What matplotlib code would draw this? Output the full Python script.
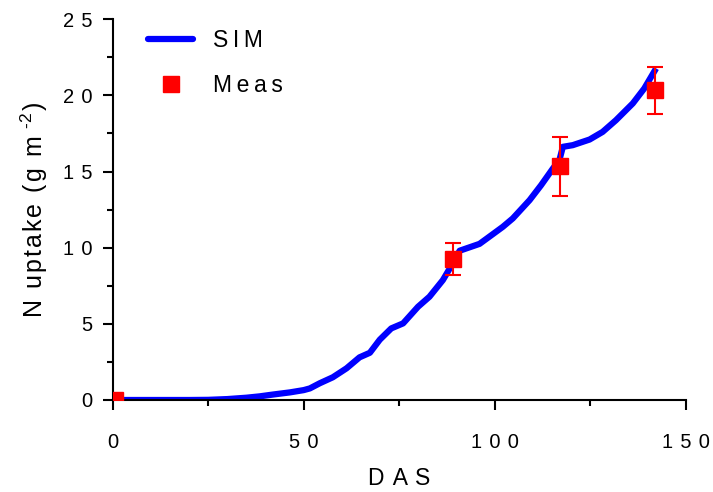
import matplotlib
matplotlib.use('Agg')
import matplotlib.pyplot as plt
from matplotlib.lines import Line2D
from matplotlib.ticker import MultipleLocator, FuncFormatter

plt.rcParams['font.family'] = ['Liberation Sans', 'DejaVu Sans']
plt.rcParams['mathtext.fontset'] = 'custom'
plt.rcParams['mathtext.rm'] = 'Liberation Sans'

# simulated N uptake
sim_das = [0, 10, 20, 25, 30, 35, 38.5, 42, 46.4, 50, 51.6, 54.2, 57.6, 61.2, 64.6,
           67.3, 69.9, 72.9, 76.0, 79.9, 82.9, 86.4, 89.0, 90.8, 96.0, 99, 102.1,
           104.7, 109.1, 112.1, 115.2, 116.9, 117.8, 120.4, 124.8, 128.2, 131.7,
           136.1, 139.1, 142.2]
sim_n = [0, 0, 0, 0.01, 0.06, 0.15, 0.24, 0.36, 0.5, 0.65, 0.76, 1.1, 1.49, 2.08, 2.8,
         3.1, 3.96, 4.7, 5.03, 6.12, 6.78, 7.87, 8.97, 9.8, 10.25, 10.8, 11.37,
         11.92, 13.12, 14.1, 15.2, 15.75, 16.62, 16.73, 17.1, 17.6, 18.37,
         19.47, 20.45, 21.77]

# measured values with error bars
meas_das = [0.5, 89, 117, 142]
meas_n = [0.0, 9.23, 15.35, 20.32]
meas_err = [0, 1.05, 1.94, 1.53]

HAIR = '\u200a'
THIN = '\u2009'


def spaced(s, sep=' '):
    # wide letter tracking like the original
    return sep.join(s)


fig = plt.figure(figsize=(7.13, 4.92), dpi=100)
ax = fig.add_axes([0.158, 0.187, 0.804, 0.774])

ax.plot(sim_das, sim_n, color='#0000ff', lw=4.5, zorder=2, solid_capstyle='butt')
ax.errorbar(meas_das, meas_n, yerr=meas_err, fmt='s', color='#ff0000', ms=12,
            ecolor='#ff0000', elinewidth=1.5, capsize=5.8, capthick=1.5, zorder=3)

ax.set_xlim(0, 150)
ax.set_ylim(0, 25)
ax.xaxis.set_major_locator(MultipleLocator(50))
ax.xaxis.set_minor_locator(MultipleLocator(25))
ax.yaxis.set_major_locator(MultipleLocator(5))
ax.yaxis.set_minor_locator(MultipleLocator(2.5))
fmt = FuncFormatter(lambda v, p: spaced('%d' % v, ' ' + HAIR))
ax.xaxis.set_major_formatter(fmt)
ax.yaxis.set_major_formatter(fmt)

for side in ['top', 'right']:
    ax.spines[side].set_visible(False)
for side in ['left', 'bottom']:
    ax.spines[side].set_linewidth(1.5)
ax.tick_params(which='major', length=7.5, width=1.5, labelsize=14.5)
ax.tick_params(which='minor', length=4, width=1.5)
ax.tick_params(axis='x', which='major', pad=16)
ax.tick_params(axis='y', which='major', pad=7)

ax.set_xlabel(spaced('DAS', ' ' + HAIR), fontsize=16.5, labelpad=11)
ax.set_ylabel(spaced('N uptake (g m', HAIR) + ' ' + r'$^{\text{-} 2}$' + HAIR + ')',
              fontsize=18)
ax.yaxis.set_label_coords(-0.11, 0.5)

handles = [Line2D([], [], color='#0000ff', lw=4.5, solid_capstyle='round'),
           Line2D([], [], color='#ff0000', marker='s', ms=12, ls='none')]
ax.legend(handles, [spaced('SIM', THIN), spaced('Meas', THIN)], loc='upper left',
          bbox_to_anchor=(0.0616, 0.975), borderaxespad=0, borderpad=0,
          frameon=False, fontsize=16.5, handlelength=1.97, handletextpad=0.87,
          labelspacing=0.98)

fig.savefig('out.png', dpi=100)
